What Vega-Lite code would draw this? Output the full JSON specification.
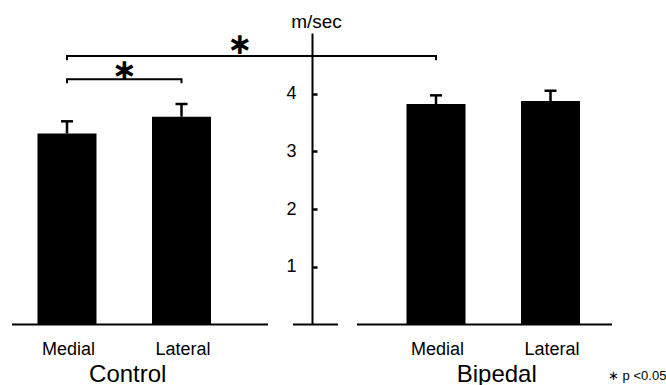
{
  "$schema": "https://vega.github.io/schema/vega-lite/v6.json",
  "width": 593.5,
  "height": 291.5,
  "autosize": {"type": "none"},
  "padding": {"left": 12, "top": 33, "right": 60.5, "bottom": 60.5},
  "background": "white",
  "config": {"view": {"stroke": null}, "font": "Liberation Sans"},
  "datasets": {
    "speed": [
      {"group": "Control", "side": "Medial", "speed": 3.31, "upper": 3.52},
      {"group": "Control", "side": "Lateral", "speed": 3.6, "upper": 3.82},
      {"group": "Bipedal", "side": "Medial", "speed": 3.82, "upper": 3.97},
      {"group": "Bipedal", "side": "Lateral", "speed": 3.87, "upper": 4.05}
    ],
    "brackets": [
      {"id": "outer", "group": "Control", "side": "Medial", "level": 4.58, "k": 1},
      {"id": "outer", "group": "Control", "side": "Medial", "level": 4.65, "k": 2},
      {"id": "outer", "group": "Bipedal", "side": "Medial", "level": 4.65, "k": 3},
      {"id": "outer", "group": "Bipedal", "side": "Medial", "level": 4.58, "k": 4},
      {"id": "inner", "group": "Control", "side": "Medial", "level": 4.18, "k": 1},
      {"id": "inner", "group": "Control", "side": "Medial", "level": 4.25, "k": 2},
      {"id": "inner", "group": "Control", "side": "Lateral", "level": 4.25, "k": 3},
      {"id": "inner", "group": "Control", "side": "Lateral", "level": 4.18, "k": 4}
    ],
    "notes": [
      {"star": "∗", "note": "∗ p <0.05", "inner": 4.4, "outer": 4.84, "legend": 0}
    ]
  },
  "data": {"name": "speed"},
  "layer": [
    {
      "mark": {"type": "bar", "color": "black"},
      "encoding": {
        "x": {
          "field": "group", "type": "nominal", "title": null,
          "scale": {"domain": ["Control", " ", "Bipedal"], "paddingInner": 0, "paddingOuter": 0.1084},
          "axis": {"orient": "bottom", "domain": false, "ticks": false, "labelAngle": 0,
                   "labelFont": "Liberation Sans", "labelFontSize": 24, "labelColor": "black",
                   "labelBaseline": "alphabetic", "labelPadding": 56.5, "labelOffset": 3.5, "title": null}
        },
        "xOffset": {"field": "side", "type": "nominal",
                    "scale": {"domain": ["Medial", "Lateral"], "paddingInner": 0.4847, "paddingOuter": 0.048}},
        "y": {
          "field": "speed", "type": "quantitative",
          "scale": {"domain": [0, 5.05], "nice": false, "zero": true},
          "axis": {"orient": "left", "offset": -300, "values": [1, 2, 3, 4], "format": "d", "grid": false,
                   "ticks": true, "tickSize": -5, "tickWidth": 2.5, "tickColor": "#000000", "tickOpacity": 1,
                   "domainColor": "black", "domainWidth": 2,
                   "labelFont": "Liberation Sans", "labelFontSize": 18, "labelColor": "black", "labelPadding": 21,
                   "title": "m/sec", "titleAngle": 0, "titleX": 4, "titleY": -6, "titleAlign": "center",
                   "titleBaseline": "alphabetic", "titleFont": "Liberation Sans", "titleFontSize": 19,
                   "titleFontWeight": "normal", "titleColor": "black"}
        }
      }
    },
    {
      "mark": {"type": "rule", "color": "black", "strokeWidth": 2.5},
      "encoding": {
        "x": {"field": "group", "type": "nominal"},
        "xOffset": {"field": "side", "type": "nominal"},
        "y": {"field": "speed", "type": "quantitative"},
        "y2": {"field": "upper"}
      }
    },
    {
      "mark": {"type": "tick", "orient": "horizontal", "color": "black", "size": 12, "thickness": 2.5, "opacity": 1},
      "encoding": {
        "x": {"field": "group", "type": "nominal"},
        "xOffset": {"field": "side", "type": "nominal"},
        "y": {"field": "upper", "type": "quantitative"}
      }
    },
    {
      "data": {"name": "brackets"},
      "mark": {"type": "line", "color": "black", "strokeWidth": 2},
      "encoding": {
        "x": {"field": "group", "type": "nominal"},
        "xOffset": {"field": "side", "type": "nominal"},
        "y": {"field": "level", "type": "quantitative"},
        "detail": {"field": "id"},
        "order": {"field": "k", "type": "quantitative"}
      }
    },
    {
      "data": {"name": "notes"},
      "mark": {"type": "rule", "color": "black", "strokeWidth": 2},
      "encoding": {
        "x": {"datum": "Control", "bandPosition": -0.1084},
        "x2": {"datum": " ", "bandPosition": 0.2791},
        "y": {"field": "legend", "type": "quantitative"}
      }
    },
    {
      "data": {"name": "notes"},
      "mark": {"type": "rule", "color": "black", "strokeWidth": 2},
      "encoding": {
        "x": {"datum": " ", "bandPosition": 0.4146},
        "x2": {"datum": " ", "bandPosition": 0.6585},
        "y": {"field": "legend", "type": "quantitative"}
      }
    },
    {
      "data": {"name": "notes"},
      "mark": {"type": "rule", "color": "black", "strokeWidth": 2},
      "encoding": {
        "x": {"datum": "Bipedal", "bandPosition": -0.2385},
        "x2": {"datum": "Bipedal", "bandPosition": 1.1436},
        "y": {"field": "legend", "type": "quantitative"}
      }
    },
    {
      "mark": {"type": "text", "baseline": "alphabetic", "align": "center", "fontSize": 18, "font": "Liberation Sans", "color": "black", "dy": 30.5, "dx": 1.5},
      "encoding": {
        "x": {"field": "group", "type": "nominal"},
        "xOffset": {"field": "side", "type": "nominal"},
        "y": {"datum": 0},
        "text": {"field": "side"}
      }
    },
    {
      "data": {"name": "notes"},
      "mark": {"type": "text", "baseline": "middle", "align": "center", "fontSize": 30, "font": "DejaVu Sans", "fontWeight": "bold", "color": "black"},
      "encoding": {
        "x": {"datum": "Control", "bandPosition": 0.5},
        "y": {"field": "inner", "type": "quantitative"},
        "text": {"field": "star"}
      }
    },
    {
      "data": {"name": "notes"},
      "mark": {"type": "text", "baseline": "middle", "align": "center", "fontSize": 30, "font": "DejaVu Sans", "fontWeight": "bold", "color": "black"},
      "encoding": {
        "x": {"datum": " ", "bandPosition": 0.127},
        "y": {"field": "outer", "type": "quantitative"},
        "text": {"field": "star"}
      }
    },
    {
      "data": {"name": "notes"},
      "mark": {"type": "text", "baseline": "alphabetic", "align": "left", "fontSize": 13, "font": "Liberation Sans", "color": "black", "dy": 55},
      "encoding": {
        "x": {"datum": "Bipedal", "bandPosition": 1.122},
        "y": {"field": "legend", "type": "quantitative"},
        "text": {"field": "note"}
      }
    }
  ]
}
